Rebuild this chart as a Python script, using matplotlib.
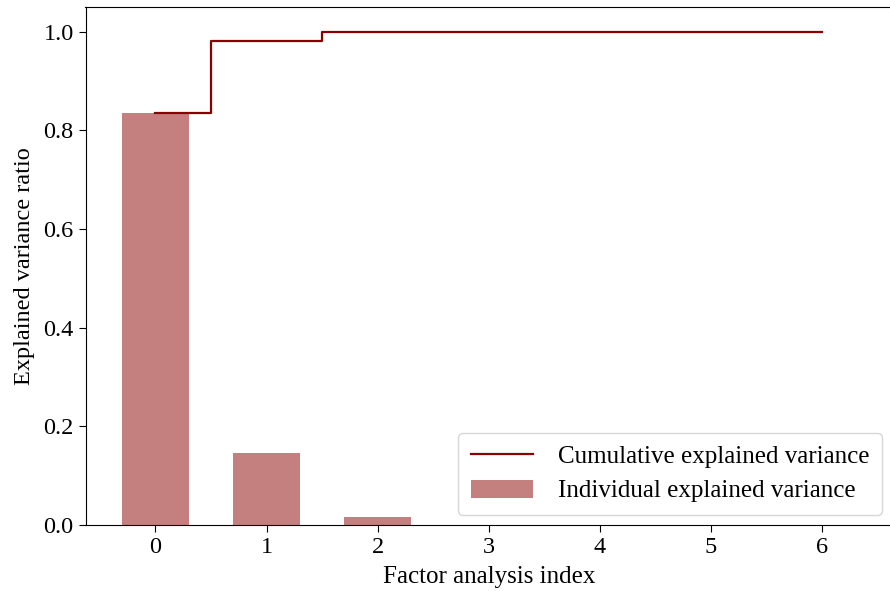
import numpy as np
import matplotlib
matplotlib.use("Agg")
import matplotlib.pyplot as plt

# -----------------------------
# DATA
# -----------------------------
factor_index = [0, 1, 2, 3, 4, 5, 6]
explained_ratio = [0.836, 0.146, 0.017, 0.001, 0.0, 0.0, 0.0]
cumulative_ratio = np.cumsum(explained_ratio)

plt.rcParams['font.family'] = ['Liberation Serif', 'DejaVu Serif']

fig = plt.figure(figsize=(8.9, 5.91), dpi=100)
ax = fig.add_axes([85.5 / 890, 66 / 591, (892 - 85.5) / 890, (525 - 7) / 591])

ax.bar(factor_index, explained_ratio, width=0.6, color='darkred', alpha=0.5,
       label='Individual explained variance')
ax.step(factor_index, cumulative_ratio, where='mid', color='darkred', lw=1.6,
        label='Cumulative explained variance')

ax.set_ylabel('Explained variance ratio', fontsize=17.5, labelpad=6)
ax.set_xlabel('Factor analysis index', fontsize=18, labelpad=6)
ax.tick_params(labelsize=17.5, length=5)
ax.legend(loc='lower right', fontsize=18, borderaxespad=0.4,
          handlelength=2.5, handletextpad=1.0, borderpad=0.5)

fig.savefig('out.png', dpi=100)
